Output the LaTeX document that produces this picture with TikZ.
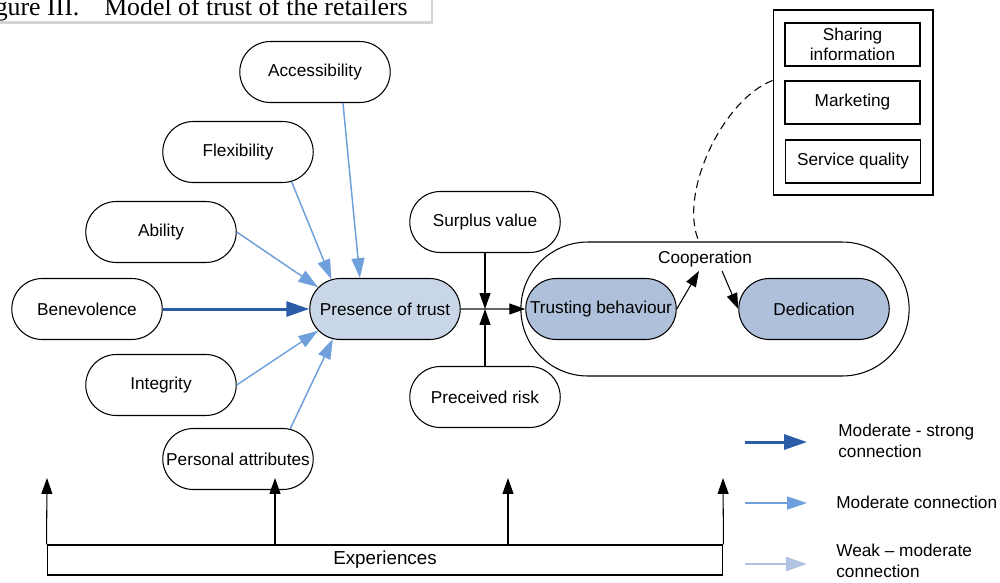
\documentclass[tikz,border=0pt]{standalone}
\usepackage{fontspec}
\setmainfont{Liberation Sans}
\newfontfamily\captionserif{Liberation Serif}
\usetikzlibrary{arrows.meta,shapes.misc,calc}

\definecolor{presfill}{HTML}{C8D6E8}
\definecolor{coopfill}{HTML}{AEC0DA}
\definecolor{modblue}{HTML}{6FA0DC}
\definecolor{strongblue}{HTML}{2A5CA8}
\definecolor{weakblue}{HTML}{B0C4E2}

\tikzset{
  stad/.style={rounded rectangle, draw=black, line width=0.6pt,
    minimum width=3.08cm, minimum height=1.22cm, inner sep=1pt},
  listbox/.style={rectangle, draw=black, line width=0.6pt,
    minimum width=2.7cm, minimum height=0.86cm, inner sep=1pt, align=center},
  modarrow/.style={draw=modblue, line width=0.85pt,
    -{Triangle[length=11.3pt,width=7.4pt]}},
  strongarrow/.style={draw=strongblue, line width=1.7pt,
    -{Triangle[length=13pt,width=8.5pt]}},
  weakarrow/.style={draw=weakblue, line width=1.2pt,
    -{Triangle[length=12pt,width=8pt]}},
  blackarrow/.style={draw=black, line width=0.6pt,
    -{Triangle[length=9pt,width=6.2pt,color=black]}},
  legendtext/.style={anchor=west, align=left, inner sep=0pt},
}

\begin{document}
\begin{tikzpicture}[x=0.02cm, y=-0.02cm, font=\fontsize{9.8}{11.6}\selectfont]
\useasboundingbox (0,0) rectangle (1000,582);

% caption box, cut by the page edge
\begin{scope}
  \clip (0,0) rectangle (1000,582);
  \draw[draw=black!17, line width=1.2pt] (-20,-20) rectangle (432,22.5);
  \node[font=\captionserif\fontsize{14.7}{16}\selectfont, anchor=base east, inner sep=0pt]
    (caption) at (408,15) {Figure III.\hspace{10.5pt} Model of trust of the retailers};
\end{scope}

% antecedents of trust
\node[stad] (acc)  at (315,72)  {Accessibility};
\node[stad] (flex) at (238,152) {Flexibility};
\node[stad] (abil) at (161,232) {Ability};
\node[stad] (bene) at (87,309)  {Benevolence};
\node[stad] (integ) at (161,385) {Integrity};
\node[stad] (pers) at (238,459) {Personal attributes};

\node[stad, fill=presfill] (pres) at (385,309) {Presence of trust};

\node[stad] (surp) at (485,222) {Surplus value};
\node[stad] (risk) at (485,397) {Preceived risk};

% cooperation group
\node[rounded rectangle, draw=black, line width=0.6pt,
      minimum width=8cm, minimum height=2.68cm] (coopbig) at (715,309) {};
\node[inner sep=2pt] (coop) at (705,259) {Cooperation};
\node[stad, fill=coopfill] (trust) at (601,309) {Trusting behaviour};
\node[stad, fill=coopfill] (ded) at (814,309) {Dedication};

% retailer activities
\node[rectangle, draw=black, line width=0.6pt,
      minimum width=3.2cm, minimum height=3.7cm] (acts) at (853,102.5) {};
\node[listbox] (share) at (852.5,44.5) {Sharing\\information};
\node[listbox] (mark)  at (852.5,102.5) {Marketing};
\node[listbox] (serv)  at (853,161.5) {Service quality};

% experiences
\node[rectangle, draw=black, line width=0.6pt, minimum width=13.52cm,
      minimum height=0.6cm, font=\fontsize{10.7}{12}\selectfont] (exp) at (385,560) {Experiences};

% connectors into presence of trust
\draw[modarrow] (acc.-48) -- (pres.129);
\draw[modarrow] (flex.-29) -- (pres.151);
\draw[modarrow] (abil.east) -- (pres.162);
\draw[strongarrow] (bene.east) -- (pres.west);
\draw[modarrow] (integ.east) -- (pres.198);
\draw[modarrow] (pers.30) -- (pres.210);

% presence of trust to trusting behaviour
\coordinate (jn) at (surp.south |- pres.east);
\draw[draw=black!60, line width=0.6pt, -{Triangle[length=9pt,width=6.2pt,color=black]}]
  (pres.east) -- (trust.west);
\draw[blackarrow] (surp.south) -- (jn);
\draw[blackarrow] (risk.north) -- (jn);

% within cooperation
\draw[blackarrow] (trust.east) -- ($(coop.south)+(-6,0)$);
\draw[blackarrow] ($(coop.south)+(17,0)$) -- (ded.west);

% activities feed cooperation
\draw[line width=0.6pt, dash pattern=on 4.5pt off 2.8pt]
  ($(acts.north west)+(0,71)$) .. controls (722,100) and (678,195) .. ($(coopbig.north)+(-16,0)$);

% experiences arrows
\coordinate (upA) at (47,478);
\coordinate (upB) at (275,478);
\coordinate (upC) at (508,478);
\coordinate (upD) at (723,478);
\draw[blackarrow] (exp.north west) -- (upA);
\draw[blackarrow] (exp.north west -| upB) -- (upB);
\draw[blackarrow] (exp.north west -| upC) -- (upC);
\draw[blackarrow] (exp.north east) -- (upD);

% legend
\coordinate (lsA) at (745,442); \coordinate (leA) at (807,442);
\coordinate (lsB) at (745,503); \coordinate (leB) at (807,503);
\coordinate (lsC) at (745,564); \coordinate (leC) at (807,564);
\draw[strongarrow] (lsA) -- (leA);
\draw[modarrow] (lsB) -- (leB);
\draw[weakarrow] (lsC) -- (leC);
\node[legendtext] (lgA) at (838,441) {Moderate - strong\\connection};
\node[legendtext] (lgB) at (836,502) {Moderate connection};
\node[legendtext] (lgC) at (836,561) {Weak -- moderate\\connection};
\end{tikzpicture}
\end{document}
